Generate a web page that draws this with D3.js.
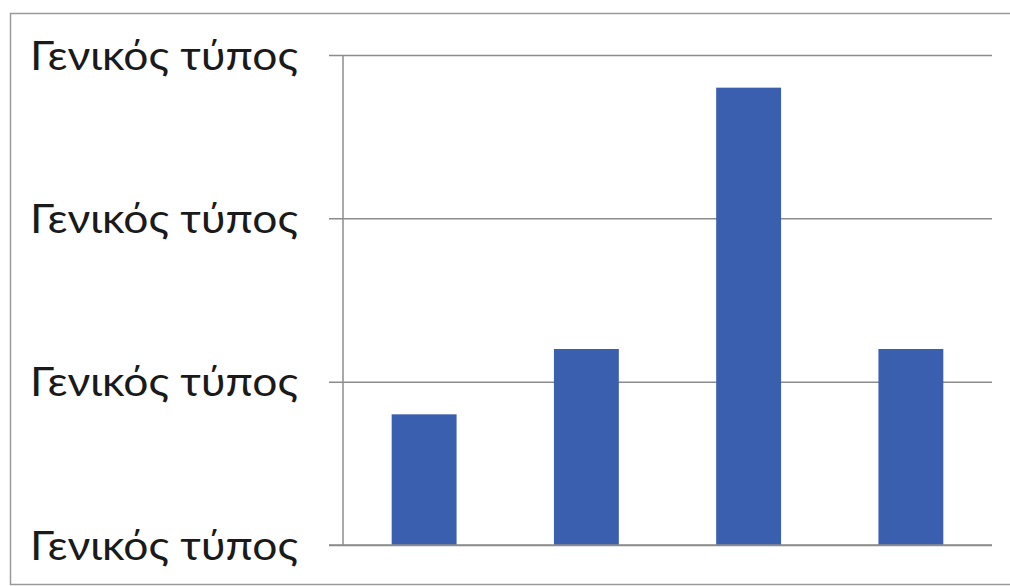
<!DOCTYPE html>
<html><head><meta charset="utf-8">
<script src="https://cdn.jsdelivr.net/npm/d3@7"></script>
<style>html,body{margin:0;padding:0;background:#fff;}svg{display:block;}</style>
</head><body>
<svg id="c" width="1010" height="586"></svg>
<script>
const categories = ["A", "B", "C", "D"];
const values = [0.8, 1.2, 2.8, 1.2];
const tickValues = [0, 1, 2, 3];
const tickLabels = ["Γενικός τύπος", "Γενικός τύπος", "Γενικός τύπος", "Γενικός τύπος"];

(function () {
const svg = d3.select("#c");
const mLeft = 343, mRight = 992, mTop = 55, mBottom = 545;

// outer frame
svg.append("path").attr("d", "M1010,13.5H10.5V584.5H1010")
  .attr("fill", "none").attr("stroke", "#9a9a9a").attr("stroke-width", 1.5);

const x = d3.scaleBand().domain(categories).range([mLeft, mRight]).paddingInner(0.6).paddingOuter(0.3);
const y = d3.scaleLinear().domain([0, 3]).range([mBottom, mTop]);

const yAxis = d3.axisLeft(y).tickValues(tickValues).tickSize(-(mRight - mLeft)).tickSizeOuter(0)
  .tickFormat((d, i) => tickLabels[i]);
const g = svg.append("g").attr("transform", `translate(${mLeft},0)`).call(yAxis);
g.select(".domain").remove();
g.selectAll(".tick line").attr("x1", -14).attr("stroke", "#8c8c8c").attr("stroke-width", 1.5);
g.selectAll(".tick text")
  .attr("x", -313).attr("text-anchor", "start").attr("dy", "0.35em")
  .attr("font-family", "Lato, 'Open Sans', sans-serif").attr("font-size", 40)
  .attr("fill", "#1a1a1a")
  .attr("textLength", 268).attr("lengthAdjust", "spacingAndGlyphs");

svg.append("line").attr("x1", mLeft).attr("x2", mLeft).attr("y1", y(3)).attr("y2", y(0))
  .attr("stroke", "#8c8c8c").attr("stroke-width", 1.5);

svg.append("g").selectAll("rect").data(values).join("rect")
  .attr("x", (d, i) => x(categories[i]))
  .attr("width", x.bandwidth())
  .attr("y", d => y(d))
  .attr("height", d => y(0) - y(d))
  .attr("fill", "#3b5faf");

svg.append("line").attr("x1", mLeft - 14).attr("x2", mRight).attr("y1", y(0)).attr("y2", y(0))
  .attr("stroke", "#8c8c8c").attr("stroke-width", 1.5);
})();
</script>
</body></html>
